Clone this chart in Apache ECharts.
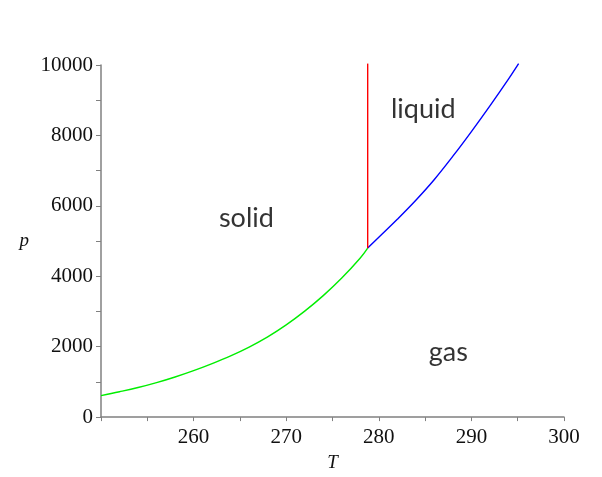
<!DOCTYPE html>
<html>
<head>
<meta charset="utf-8">
<script src="https://cdn.jsdelivr.net/npm/echarts@6/dist/echarts.min.js"></script>
<style>html,body{margin:0;padding:0;background:#fff}#c{width:602px;height:477px}</style>
</head>
<body>
<div id="c"></div>
<script>
// Solid–gas (sublimation) curve
var solidGasT = [250, 252, 254, 256, 258, 260, 262, 264, 266, 268, 270, 272, 274, 276, 278, 278.8];
var solidGasP = [610, 720, 840, 980, 1140, 1320, 1520, 1740, 1990, 2280, 2620, 3010, 3450, 3950, 4520, 4800];
// Liquid–gas (vaporisation) curve
var liquidGasT = [278.8, 280, 282, 284, 286, 288, 290, 292, 294, 295.1];
var liquidGasP = [4800, 5110, 5620, 6160, 6750, 7410, 8110, 8840, 9600, 10040];
// Solid–liquid (melting) line
var solidLiquidT = [278.8, 278.8];
var solidLiquidP = [4800, 10040];
// Region labels
var regionNames = ['solid', 'liquid', 'gas'];
var regionT = [265.7, 284.8, 287.5];
var regionP = [5650, 8750, 1850];

function pairs(xs, ys) { return xs.map(function (x, i) { return [x, ys[i]]; }); }

var chart = echarts.init(document.getElementById('c'), null, {renderer: 'canvas'});
var axisColor = '#808080';
var tickFont = {fontFamily: 'Liberation Serif', fontSize: 21, color: '#111'};
chart.setOption({
  animation: false,
  backgroundColor: '#fff',
  grid: {left: 101, right: 38, top: 65, bottom: 57},
  xAxis: {
    type: 'value', min: 250, max: 300, interval: 5,
    name: 'T', nameLocation: 'middle', nameGap: 33,
    nameTextStyle: {fontFamily: 'Liberation Serif', fontStyle: 'italic', fontSize: 19, color: '#111'},
    axisLine: {show: true, lineStyle: {color: axisColor, width: 1.5}},
    axisTick: {show: true, inside: false, length: 4, lineStyle: {color: axisColor}},
    splitLine: {show: false},
    axisLabel: Object.assign({margin: 10, formatter: function (v) { return (v % 10 === 0 && v !== 250) ? String(v) : ''; }}, tickFont)
  },
  yAxis: {
    type: 'value', min: 0, max: 10000, interval: 1000,
    name: 'p', nameLocation: 'middle', nameGap: 72, nameRotate: 0,
    nameTextStyle: {fontFamily: 'Liberation Serif', fontStyle: 'italic', fontSize: 19, color: '#111'},
    axisLine: {show: true, lineStyle: {color: axisColor, width: 1.5}},
    axisTick: {show: true, inside: false, length: 5, lineStyle: {color: axisColor}},
    splitLine: {show: false},
    axisLabel: Object.assign({margin: 8, formatter: function (v) { return (v % 2000 === 0) ? String(v) : ''; }}, tickFont)
  },
  series: [
    {type: 'line', data: pairs(solidGasT, solidGasP), smooth: 0.4, showSymbol: false, clip: false,
     lineStyle: {color: '#00ee00', width: 1.4}},
    {type: 'line', data: pairs(liquidGasT, liquidGasP), smooth: 0.4, showSymbol: false, clip: false,
     lineStyle: {color: '#0000ff', width: 1.4}},
    {type: 'line', data: pairs(solidLiquidT, solidLiquidP), showSymbol: false, clip: false,
     lineStyle: {color: '#ff0000', width: 1.4}},
    {type: 'scatter', symbolSize: 0, silent: true,
     data: regionNames.map(function (n, i) { return {value: [regionT[i], regionP[i]], name: n}; }),
     label: {show: true, position: 'inside', formatter: '{b}', fontFamily: 'Lato', fontSize: 27, color: '#000'}}
  ]
});
</script>
</body>
</html>
